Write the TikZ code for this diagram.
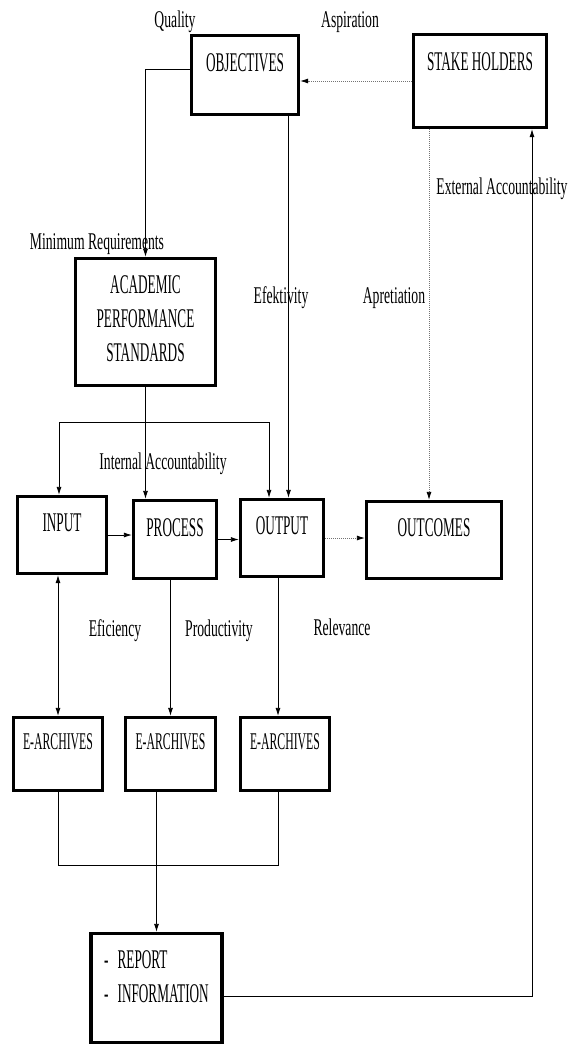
\documentclass[tikz,border=0pt]{standalone}
\usepackage{fontspec}
\newfontfamily\boxfont{Liberation Serif}[FakeStretch=0.49]
\newfontfamily\lblfont{Liberation Serif}[FakeStretch=0.57]
\usetikzlibrary{calc,arrows.meta}

\tikzset{
  blk/.style 2 args={draw, line width=3.3pt, inner sep=0pt, anchor=base,
    text height=#1, text depth=#2, font=\boxfont\fontsize{27}{34}\selectfont},
  ea/.style={font=\boxfont\fontsize{24}{28}\selectfont},
  lbl/.style={anchor=base, inner sep=0pt, font=\lblfont\fontsize{24}{28}\selectfont},
  con/.style={line width=0.8pt},
  dot/.style={line width=0.8pt, black!55, dash pattern=on 1.2pt off 0.8pt,
    -{Latex[length=8pt,width=5pt,black]}},
  >={Latex[length=8pt,width=5pt]}
}

\begin{document}
\begin{tikzpicture}[x=1pt,y=-1pt]
  \useasboundingbox (0,0) rectangle (569,1046);

  % boxes
  \node[blk={36.5pt}{42.5pt}, minimum width=107pt] (obj) at (245,72) {OBJECTIVES};
  \node[blk={36.5pt}{56.5pt}, minimum width=133pt] (sh) at (480,71) {STAKE HOLDERS};
  \node[blk={34.5pt}{92.5pt}, minimum width=140pt] (aps) at (145.5,293)
    {\begin{tabular}[t]{@{}c@{}}ACADEMIC\\PERFORMANCE\\STANDARDS\end{tabular}};
  \node[blk={34.5pt}{42.5pt}, minimum width=89pt] (in) at (62,531) {INPUT};
  \node[blk={35.5pt}{42.5pt}, minimum width=83pt] (proc) at (175,536) {PROCESS};
  \node[blk={34.5pt}{42.5pt}, minimum width=83pt] (out) at (282,534) {OUTPUT};
  \node[blk={34.5pt}{42.5pt}, minimum width=135pt] (outc) at (434,536) {OUTCOMES};
  \node[blk={31.5pt}{41.5pt}, ea, minimum width=89pt] (ea1) at (58,749) {E-ARCHIVES};
  \node[blk={31.5pt}{41.5pt}, ea, minimum width=90pt] (ea2) at (170.5,749) {E-ARCHIVES};
  \node[blk={31.5pt}{41.5pt}, ea, minimum width=89pt] (ea3) at (285,749) {E-ARCHIVES};
  \node[blk={34.5pt}{74.5pt}, minimum width=131pt] (rep) at (156.5,968)
    {\begin{tabular}[t]{@{}l@{}}-\hspace{9pt}REPORT\\-\hspace{9pt}INFORMATION\end{tabular}};

  % labels
  \node[lbl] (qual) at (175,28) {Quality};
  \node[lbl] (asp) at (350,28) {Aspiration};
  \node[lbl] (minreq) at (97,249) {Minimum Requirements};
  \node[lbl] (extacc) at (502,194) {External Accountability};
  \node[lbl] (efek) at (281,303) {Efektivity};
  \node[lbl] (apre) at (394,303) {Apretiation};
  \node[lbl] (intacc) at (163,469) {Internal Accountability};
  \node[lbl] (efic) at (115,636) {Eficiency};
  \node[lbl] (prod) at (219,636) {Productivity};
  \node[lbl] (rel) at (342,635) {Relevance};

  % shifted ends
  \coordinate (objl) at ([yshift=6pt]obj.west);
  \coordinate (outt) at ([xshift=6.5pt]out.north);
  \coordinate (outct) at ([xshift=-5pt]outc.north);
  \coordinate (repr) at ([yshift=-8pt]rep.east);
  \coordinate (shb) at ([xshift=52pt]sh.south);
  \coordinate (ea3t) at ([xshift=-7pt]ea3.north);
  \coordinate (ea3b) at ([xshift=-7pt]ea3.south);
  \coordinate (brl) at (59,422);
  \coordinate (brr) at (269,422);

  % top part
  \draw[dot] (sh.west) -- (sh.west -| obj.east);
  \draw[con,->] (objl) -| (aps.north);
  \draw[con,->] (outt |- obj.south) -- (outt);
  \draw[dot] (outct |- sh.south) -- (outct);
  \draw[con,->] (repr) -| (shb);

  % standards
  \draw[con] (brl) -- (brr);
  \draw[con,->] (brl) -- (brl |- in.north);
  \draw[con,->] (brr) -- (brr |- out.north);
  \draw[con,->] (aps.south) -- (aps.south |- proc.north);

  % chain
  \draw[con,->] (in.east) -- (in.east -| proc.west);
  \draw[con,->] (proc.east) -- (proc.east -| out.west);
  \draw[dot] (out.east) -- (out.east -| outc.west);

  % archives
  \draw[con,<->] (ea1.north |- in.south) -- (ea1.north);
  \draw[con,->] (ea2.north |- proc.south) -- (ea2.north);
  \draw[con,->] (ea3t |- out.south) -- (ea3t);
  \draw[con] (ea1.south) -- (ea1.south |- 0,865) -| (ea3b);
  \draw[con,->] (rep.north |- ea2.south) -- (rep.north);
\end{tikzpicture}
\end{document}
